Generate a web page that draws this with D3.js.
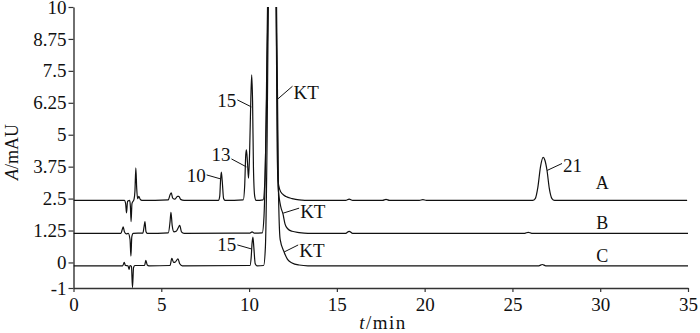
<!DOCTYPE html>
<html>
<head>
<meta charset="utf-8">
<script src="https://cdn.jsdelivr.net/npm/d3@7"></script>
<style>
    body { margin: 0; background: #fff; }
    #chart { width: 700px; height: 333px; }
    text { font-family: "Liberation Serif", "DejaVu Serif", serif; fill: #111; }
</style>
</head>
<body>
<div id="chart"></div>
<script>
// [time (min), absorbance (mAU)], KT goes off scale
const traceA = [[0, 2.43], [2.9, 2.43], [2.97, 2.3], [3.02, 1.94], [3.08, 2.4], [3.2, 2.43], [3.24, 2.2], [3.28, 1.6],
    [3.33, 2.3], [3.45, 2.48], [3.5, 2.8], [3.55, 3.7], [3.6, 2.9], [3.65, 2.5], [3.72, 2.59], [3.8, 2.47], [3.9, 2.43],
    [5.4, 2.45], [5.5, 2.65], [5.57, 2.72], [5.65, 2.52], [5.78, 2.48], [5.92, 2.59], [6.0, 2.59], [6.1, 2.47], [6.3, 2.43],
    [8.25, 2.43], [8.33, 2.6], [8.38, 3.27], [8.42, 3.54], [8.47, 3.2], [8.55, 2.5], [8.63, 2.43],
    [9.67, 2.45], [9.75, 3.0], [9.81, 4.2], [9.85, 4.41], [9.91, 3.9], [9.97, 3.3], [10.03, 4.3], [10.1, 6.4], [10.15, 7.34],
    [10.2, 6.3], [10.25, 3.7], [10.32, 2.6], [10.4, 2.43], [10.8, 2.45], [10.9, 3.2], [11.0, 6.5], [11.1, 11],
    [11.3, 14], [11.53, 11], [11.6, 4.5], [11.65, 3.2], [11.75, 2.85], [11.9, 2.68], [12.1, 2.58], [12.45, 2.5],
    [12.85, 2.45], [13.5, 2.43], [15.5, 2.43], [15.7, 2.48], [15.9, 2.43], [17.6, 2.43], [17.8, 2.47], [18.0, 2.43],
    [19.7, 2.43], [19.9, 2.46], [20.1, 2.43], [26.15, 2.43], [26.3, 2.5], [26.45, 2.95], [26.6, 3.75], [26.75, 4.11],
    [26.85, 4.0], [26.97, 3.6], [27.1, 2.9], [27.25, 2.5], [27.4, 2.43], [34.95, 2.43]];

const traceB = [[0, 1.14], [2.7, 1.14], [2.78, 1.3], [2.83, 1.39], [2.9, 1.2], [3.0, 1.12], [3.12, 1.14], [3.22, 0.9],
    [3.27, 0.25], [3.32, 1.0], [3.4, 1.14], [3.95, 1.15], [4.02, 1.4], [4.07, 1.6], [4.13, 1.2], [4.2, 1.14],
    [5.4, 1.16], [5.5, 1.6], [5.55, 1.96], [5.62, 1.45], [5.72, 1.2], [5.85, 1.22], [5.98, 1.38], [6.05, 1.45],
    [6.15, 1.2], [6.3, 1.14], [10.05, 1.15], [10.17, 1.2], [10.3, 1.15], [10.75, 1.16], [10.85, 1.8], [10.97, 5.5],
    [11.07, 11], [11.3, 14], [11.53, 11], [11.65, 3.0], [11.8, 2.2], [11.93, 1.9], [12.05, 1.5], [12.2, 1.32],
    [12.45, 1.22], [12.85, 1.17], [13.35, 1.14], [15.5, 1.14], [15.7, 1.22], [15.9, 1.14], [25.7, 1.14], [25.9, 1.18],
    [26.1, 1.14], [35, 1.14]];

const traceC = [[0, -0.13], [2.8, -0.13], [2.89, 0.0], [2.96, -0.12], [3.1, -0.13], [3.17, -0.27], [3.22, -0.12],
    [3.3, -0.15], [3.36, -0.98], [3.42, -0.2], [3.5, -0.12], [4.05, -0.12], [4.12, 0.08], [4.2, -0.1], [4.3, -0.13],
    [5.5, -0.12], [5.6, 0.16], [5.7, 0.0], [5.8, 0.02], [5.95, 0.14], [6.05, -0.05], [6.2, -0.13], [10.05, -0.12],
    [10.12, 0.2], [10.17, 0.75], [10.22, 0.99], [10.27, 0.6], [10.35, -0.05], [10.45, -0.13], [10.83, -0.12],
    [10.93, 0.6], [11.03, 5], [11.11, 11], [11.3, 14], [11.55, 11], [11.67, 3.0], [11.77, 0.9], [12.0, 0.4],
    [12.19, 0.12], [12.45, -0.02], [12.85, -0.1], [13.35, -0.13], [26.5, -0.13], [26.7, -0.08], [26.9, -0.13], [35, -0.13]];

const traceNames = ["A", "B", "C"];
const traceBase = [2.43, 1.14, -0.13];

const xTicks = [0, 5, 10, 15, 20, 25, 30, 35];
const yTicks = [-1, 0, 1.25, 2.5, 3.75, 5, 6.25, 7.5, 8.75, 10];
const yTickLabels = ["-1", "0", "1.25", "2.5", "3.75", "5", "6.25", "7.5", "8.75", "10"];

// peak labels, t / v = where the leader line touches the trace
const peakNotes = [
    {text: "10", t: 8.38, v: 3.27},
    {text: "13", t: 9.85, v: 3.74},
    {text: "15", t: 10.13, v: 6.09},
    {text: "KT", t: 11.62, v: 6.39},
    {text: "KT", t: 11.94, v: 1.93},
    {text: "15", t: 10.13, v: 0.53},
    {text: "KT", t: 12.0, v: 0.41},
    {text: "21", t: 26.97, v: 3.6}
];

class Chromatogram {
    constructor(parentElement) {
        this.parentElement = parentElement;
        this.initVis();
    }

    initVis() {
        let vis = this;

        vis.width = 700;
        vis.height = 333;

        vis.svg = d3.select("#" + vis.parentElement)
            .append("svg")
            .attr("width", vis.width)
            .attr("height", vis.height);

        vis.x = d3.scaleLinear().domain([0, 35]).range([73.5, 688]);
        vis.y = d3.scaleLinear().domain([-1, 10]).range([288, 7]);

        vis.svg.append("clipPath")
            .attr("id", "plotClip")
            .append("rect")
            .attr("x", 73.5)
            .attr("y", 7)
            .attr("width", 620)
            .attr("height", 281);

        // axes
        let xAxis = d3.axisBottom(vis.x)
            .tickValues(xTicks)
            .tickSize(4)
            .tickSizeOuter(0)
            .tickPadding(6);

        let yAxis = d3.axisLeft(vis.y)
            .tickValues(yTicks)
            .tickFormat((d, i) => yTickLabels[i])
            .tickSize(5)
            .tickSizeOuter(0)
            .tickPadding(2);

        let gx = vis.svg.append("g")
            .attr("transform", "translate(0," + vis.y(-1) + ")")
            .call(xAxis);

        let gy = vis.svg.append("g")
            .attr("transform", "translate(" + vis.x(0) + ",0)")
            .call(yAxis);

        [gx, gy].forEach(g => {
            g.select(".domain").attr("stroke", "#333").attr("stroke-width", 1.4);
            g.selectAll(".tick line").attr("stroke", "#333").attr("stroke-width", 1.2);
            g.selectAll(".tick text")
                .attr("font-family", "Liberation Serif")
                .attr("font-size", 19)
                .attr("fill", "#111");
        });

        // axis titles
        vis.svg.append("text")
            .attr("x", 383)
            .attr("y", 329)
            .attr("text-anchor", "middle")
            .attr("font-size", 19)
            .attr("letter-spacing", 1.5)
            .html('<tspan font-style="italic">t</tspan>/min');

        vis.svg.append("text")
            .attr("transform", "translate(18,152) rotate(-90)")
            .attr("text-anchor", "middle")
            .attr("font-size", 18)
            .html('<tspan font-style="italic">A</tspan>/mAU');

        // traces
        let line = d3.line()
            .x(d => vis.x(d[0]))
            .y(d => vis.y(d[1]))
            .curve(d3.curveMonotoneX);

        vis.svg.append("g")
            .attr("clip-path", "url(#plotClip)")
            .selectAll("path")
            .data([traceA, traceB, traceC])
            .enter()
            .append("path")
            .attr("d", line)
            .attr("fill", "none")
            .attr("stroke", "#111")
            .attr("stroke-width", 1.2)
            .attr("stroke-linejoin", "round");

        // trace names
        let nameShift = [-11, -4, -4];
        vis.svg.append("g")
            .selectAll("text")
            .data(traceNames)
            .enter()
            .append("text")
            .attr("x", vis.x(30) + 2)
            .attr("y", (d, i) => vis.y(traceBase[i]) + nameShift[i])
            .attr("text-anchor", "middle")
            .attr("font-size", 18)
            .text(d => d);

        // leader offsets [dx, dy, text anchor, text baseline shift]
        let leaders = [
            [-14, -4, "end", 7.5],
            [-15, -8, "end", 2],
            [-14, -7, "end", 7.5],
            [15, -13, "start", 13],
            [16, -5, "start", 10],
            [-14, -4, "end", 6.5],
            [14, -7, "start", 12.5],
            [15, -7, "start", 8.5]
        ];

        let notes = vis.svg.append("g")
            .selectAll("g")
            .data(peakNotes)
            .enter()
            .append("g");

        notes.append("line")
            .attr("x1", d => vis.x(d.t))
            .attr("y1", d => vis.y(d.v))
            .attr("x2", (d, i) => vis.x(d.t) + leaders[i][0])
            .attr("y2", (d, i) => vis.y(d.v) + leaders[i][1])
            .attr("stroke", "#111")
            .attr("stroke-width", 1);

        notes.append("text")
            .attr("x", (d, i) => vis.x(d.t) + leaders[i][0] + (leaders[i][2] === "end" ? -1 : 1))
            .attr("y", (d, i) => vis.y(d.v) + leaders[i][1] + leaders[i][3])
            .attr("text-anchor", (d, i) => leaders[i][2])
            .attr("font-size", 19)
            .text(d => d.text);
    }
}

new Chromatogram("chart");
</script>
</body>
</html>
